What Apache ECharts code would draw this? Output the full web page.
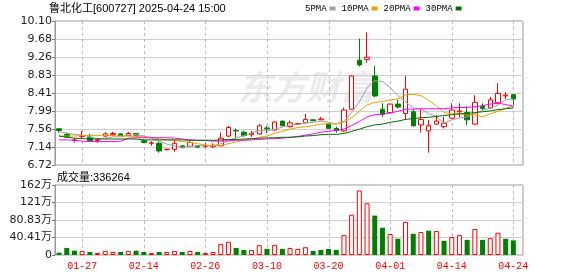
<!DOCTYPE html>
<html><head><meta charset="utf-8">
<script src="https://cdn.jsdelivr.net/npm/echarts@6/dist/echarts.min.js"></script>
<style>html,body{margin:0;padding:0;background:#fff}#c{width:578px;height:276px}</style>
</head><body><div id="c"></div>
<script>
const stockTitle = '鲁北化工[600727] 2025-04-24 15:00';
const dates = ['01-22','01-23','01-24','01-27','02-05','02-06','02-07','02-10','02-11','02-12','02-13','02-14','02-17','02-18','02-19','02-20','02-21','02-24','02-25','02-26','02-27','02-28','03-03','03-04','03-05','03-06','03-07','03-10','03-11','03-12','03-13','03-14','03-17','03-18','03-19','03-20','03-21','03-24','03-25','03-26','03-27','03-28','03-31','04-01','04-02','04-03','04-07','04-08','04-09','04-10','04-11','04-14','04-15','04-16','04-17','04-18','04-21','04-22','04-23','04-24'];
const openP = [7.57,7.44,7.30,7.39,7.37,7.30,7.40,7.44,7.45,7.41,
 7.46,7.29,7.23,7.23,7.08,7.09,7.17,7.16,7.17,7.16,
 7.15,7.17,7.40,7.53,7.49,7.43,7.45,7.59,7.54,7.75,
 7.62,7.68,7.71,7.78,7.78,7.68,7.58,7.52,8.03,9.18,
 9.20,8.81,8.03,7.95,8.15,7.93,7.97,7.66,7.52,7.68,
 7.62,7.82,7.97,7.95,7.68,8.10,8.06,8.18,8.34,8.37];
const closeP = [7.53,7.38,7.31,7.41,7.29,7.31,7.45,7.46,7.41,7.46,
 7.42,7.25,7.24,7.05,7.09,7.23,7.13,7.25,7.14,7.17,
 7.18,7.35,7.60,7.52,7.41,7.46,7.64,7.57,7.73,7.64,
 7.71,7.69,7.79,7.76,7.80,7.58,7.53,8.01,8.81,9.07,
 9.25,8.34,7.91,8.15,8.08,8.50,7.64,7.79,7.64,7.75,
 7.70,8.01,7.99,7.78,8.19,8.05,8.25,8.40,8.36,8.27];
const lowP = [7.48,7.36,7.25,7.33,7.26,7.24,7.37,7.42,7.40,7.40,
 7.41,7.23,7.17,7.01,7.06,7.03,7.11,7.15,7.12,7.12,
 7.12,7.16,7.37,7.35,7.38,7.38,7.43,7.47,7.53,7.63,
 7.60,7.66,7.70,7.75,7.77,7.57,7.48,7.50,8.02,9.03,
 9.12,8.31,7.85,7.94,8.05,7.78,7.62,7.48,7.01,7.67,
 7.58,7.80,7.84,7.66,7.66,8.01,8.04,8.15,8.27,8.13];
const highP = [7.58,7.47,7.35,7.52,7.45,7.35,7.49,7.50,7.46,7.50,
 7.47,7.32,7.28,7.27,7.10,7.30,7.19,7.29,7.19,7.23,
 7.23,7.48,7.64,7.58,7.53,7.52,7.68,7.64,7.74,7.76,
 7.76,7.71,7.92,7.79,7.85,7.69,7.62,8.07,8.82,9.69,
 9.83,9.04,8.17,8.16,8.25,8.81,8.03,8.03,7.78,7.89,
 7.85,8.17,8.17,8.10,8.36,8.17,8.32,8.64,8.43,8.39];
const volume = [55000,164000,100000,94000,70000,47000,94000,70000,70000,94000,
 100000,70000,47000,70000,70000,94000,70000,94000,70000,47000,
 70000,258000,305000,164000,117000,117000,227000,140000,234000,140000,
 164000,140000,180000,94000,117000,140000,117000,460000,930000,1490000,
 1195000,910000,630000,485000,375000,766000,490000,530000,560000,555000,
 328000,414000,460000,350000,600000,350000,390000,515000,375000,336264];
const volDir = [-1,-1,-1,1,-1,1,1,1,-1,1,
 -1,-1,1,-1,1,1,-1,1,-1,1,
 1,1,1,-1,-1,1,1,-1,1,-1,
 1,1,1,-1,-1,-1,-1,1,1,1,
 1,-1,-1,1,-1,1,-1,1,-1,1,
 -1,1,1,-1,1,-1,1,1,-1,-1];
const ma5 = [7.50,7.47,7.44,7.42,7.38,7.34,7.35,7.38,7.38,7.42,
 7.44,7.40,7.35,7.28,7.21,7.17,7.14,7.15,7.17,7.18,
 7.17,7.22,7.29,7.36,7.41,7.47,7.53,7.52,7.56,7.61,
 7.66,7.67,7.71,7.72,7.75,7.72,7.69,7.74,7.95,8.20,
 8.53,8.70,8.68,8.54,8.35,8.20,8.06,8.03,7.93,7.86,
 7.70,7.78,7.82,7.85,7.93,8.00,8.05,8.13,8.25,8.27];
const ma10 = [7.40,7.40,7.40,7.41,7.41,7.41,7.41,7.41,7.40,7.40,
 7.39,7.38,7.37,7.33,7.31,7.30,7.27,7.25,7.22,7.19,
 7.17,7.18,7.22,7.26,7.30,7.32,7.37,7.40,7.46,7.51,
 7.56,7.60,7.62,7.64,7.68,7.69,7.68,7.72,7.83,7.98,
 8.13,8.19,8.21,8.25,8.27,8.37,8.38,8.35,8.24,8.11,
 7.95,7.92,7.93,7.89,7.90,7.85,7.92,7.98,8.05,8.10];
const ma20 = [7.31,7.31,7.30,7.28,7.27,7.27,7.27,7.27,7.28,7.35,
 7.36,7.36,7.36,7.36,7.36,7.35,7.33,7.31,7.30,7.30,
 7.28,7.28,7.29,7.30,7.30,7.31,7.32,7.33,7.34,7.35,
 7.37,7.39,7.42,7.45,7.49,7.51,7.53,7.56,7.65,7.74,
 7.85,7.90,7.91,7.94,7.98,8.03,8.03,8.04,8.04,8.04,
 8.04,8.06,8.07,8.07,8.09,8.11,8.15,8.17,8.14,8.10];
const ma30 = [7.40,7.37,7.35,7.34,7.33,7.33,7.33,7.33,7.33,7.33,
 7.33,7.31,7.31,7.31,7.31,7.31,7.31,7.30,7.30,7.30,
 7.30,7.31,7.32,7.32,7.33,7.34,7.35,7.355,7.36,7.37,
 7.37,7.38,7.40,7.41,7.43,7.44,7.44,7.46,7.51,7.56,
 7.62,7.66,7.68,7.72,7.75,7.79,7.81,7.83,7.84,7.86,
 7.88,7.90,7.92,7.93,7.95,7.97,7.99,8.02,8.04,8.06];
const xTickLabels = ['01-27','02-14','02-26','03-10','03-20','04-01','04-14','04-24'];
const yTickLabels = ['6.72','7.14','7.56','7.99','8.41','8.83','9.26','9.68','10.10'];
const volTickLabels = ['0','40.41万','80.83万','121万','162万'];
const maNames = ['5PMA','10PMA','20PMA','30PMA'];

const priceMin = 6.72, priceMax = 10.10, priceStep = 0.4225;
const volMax = 1616600, volStep = 404150;

const CJK = '"Liberation Sans","Noto Sans CJK SC",sans-serif';
const AX = '"DejaVu Sans","Noto Sans CJK SC",sans-serif';
const red = '#ff0000', green = '#008000';
const maColors = ['#a0a0a0','#f0a000','#ff00ff','#006f00'];

const chart = echarts.init(document.getElementById('c'), null, {renderer:'canvas'});
const maSeries = [ma5, ma10, ma20, ma30].map((arr, k) => ({
  name: maNames[k], type:'line', xAxisIndex:1, yAxisIndex:1,
  data: arr, symbol:'none', showSymbol:false, smooth:false,
  lineStyle:{width:1, color:maColors[k]}, itemStyle:{color:maColors[k]}, z:3
}));

chart.setOption({
  animation:false,
  backgroundColor:'#ffffff',
  title:[
    {text: stockTitle, left:49, top:3, padding:0,
     textStyle:{fontSize:11, fontWeight:'normal', fontFamily:CJK, color:'#000'}},
    {text: '成交量:' + volume[volume.length-1], left:57, top:172, padding:0,
     textStyle:{fontSize:11, fontWeight:'normal', fontFamily:CJK, color:'#000'}}
  ],
  legend:{
    data: maNames, left:305, top:4, padding:0, align:'right', icon:'rect',
    itemWidth:6, itemHeight:4, itemGap:6, selectedMode:false,
    textStyle:{fontFamily:'"Liberation Mono",monospace', fontSize:9, color:'#000', padding:[0,-2,0,0]}
  },
  graphic:[{
    id:'wm', type:'text', left:238, top:70, z:0, silent:true,
    style:{text:'东方财富', font:'italic bold 34px "Noto Sans CJK SC"', fill:'#ebebeb'}
  }],
  grid:[
    {left:55, top:21, width:468, height:144, show:true, borderColor:'#999', borderWidth:1, backgroundColor:'transparent'},
    {left:55.2, top:21, width:462, height:144},
    {left:55, top:185, width:468, height:70, show:true, borderColor:'#999', borderWidth:1, backgroundColor:'transparent'},
    {left:55.2, top:185, width:462, height:70}
  ],
  xAxis:[
    {gridIndex:0, type:'value', show:false, min:0, max:1},
    {gridIndex:1, type:'category', data:dates, boundaryGap:true,
     axisLine:{show:false}, axisTick:{show:false}, axisLabel:{show:false}, splitLine:{show:false}},
    {gridIndex:2, type:'value', show:false, min:0, max:1},
    {gridIndex:3, type:'category', data:dates, boundaryGap:true,
     axisLine:{show:false}, axisTick:{show:false}, splitLine:{show:false},
     axisLabel:{show:true, interval:(i, v) => xTickLabels.includes(v), color:red,
       fontFamily:'"Liberation Mono",monospace', fontSize:10, margin:6}}
  ],
  yAxis:[
    {gridIndex:0, type:'value', min:priceMin, max:priceMax, interval:priceStep,
     axisLine:{show:true, lineStyle:{color:'#999'}},
     axisTick:{show:true, length:3, lineStyle:{color:'#777'}},
     axisLabel:{margin:3, fontFamily:AX, fontSize:11, color:'#222',
       formatter:(v) => { const k = Math.round((v - priceMin) / priceStep); return yTickLabels[k] || ''; }},
     splitLine:{show:true, lineStyle:{color:'#d0d0d0', width:1}}},
    {gridIndex:1, type:'value', min:priceMin, max:priceMax, show:false, splitLine:{show:false}},
    {gridIndex:2, type:'value', min:0, max:volMax, interval:volStep,
     axisLine:{show:true, lineStyle:{color:'#999'}},
     axisTick:{show:true, length:3, lineStyle:{color:'#777'}},
     axisLabel:{margin:3, fontFamily:AX, fontSize:11, color:'#222',
       formatter:(v) => { const k = Math.round(v / volStep); return volTickLabels[k] || ''; }},
     splitLine:{show:true, lineStyle:{color:'#d0d0d0', width:1}}},
    {gridIndex:3, type:'value', min:0, max:volMax, show:false, splitLine:{show:false}}
  ],
  series:[
    {type:'candlestick', xAxisIndex:1, yAxisIndex:1, barWidth:5, z:2,
     data: dates.map((d, i) => [openP[i], closeP[i], lowP[i], highP[i]]),
     itemStyle:{color:'#ffffff', color0:green, borderColor:red, borderColor0:green, borderWidth:1}},
    ...maSeries,
    {type:'bar', xAxisIndex:3, yAxisIndex:3, barWidth:5, z:2,
     data: volume.map((v, i) => ({value:v, itemStyle: volDir[i] > 0
        ? {color:'#ffffff', borderColor:red, borderWidth:1}
        : {color:green, borderColor:green, borderWidth:0}}))}
  ]
});

// Dashed vertical guides at the labelled dates; positions come from the chart's own scales.
const guideEls = [];
xTickLabels.forEach((d, k) => {
  const pTop = chart.convertToPixel({xAxisIndex:1, yAxisIndex:1}, [d, priceMax]);
  const pBot = chart.convertToPixel({xAxisIndex:1, yAxisIndex:1}, [d, priceMin]);
  const vTop = chart.convertToPixel({xAxisIndex:3, yAxisIndex:3}, [d, volMax]);
  const vBot = chart.convertToPixel({xAxisIndex:3, yAxisIndex:3}, [d, 0]);
  const x = Math.round(pTop[0]) + 0.5;
  guideEls.push({id:'gp' + k, type:'line', z:1, silent:true,
    shape:{x1:x, y1:pTop[1], x2:x, y2:pBot[1]},
    style:{stroke:'#bbbbbb', lineWidth:1, lineDash:[3,3]}});
  guideEls.push({id:'gv' + k, type:'line', z:1, silent:true,
    shape:{x1:x, y1:vTop[1], x2:x, y2:vBot[1]},
    style:{stroke:'#bbbbbb', lineWidth:1, lineDash:[3,3]}});
});
chart.setOption({graphic: guideEls});
</script></body></html>
